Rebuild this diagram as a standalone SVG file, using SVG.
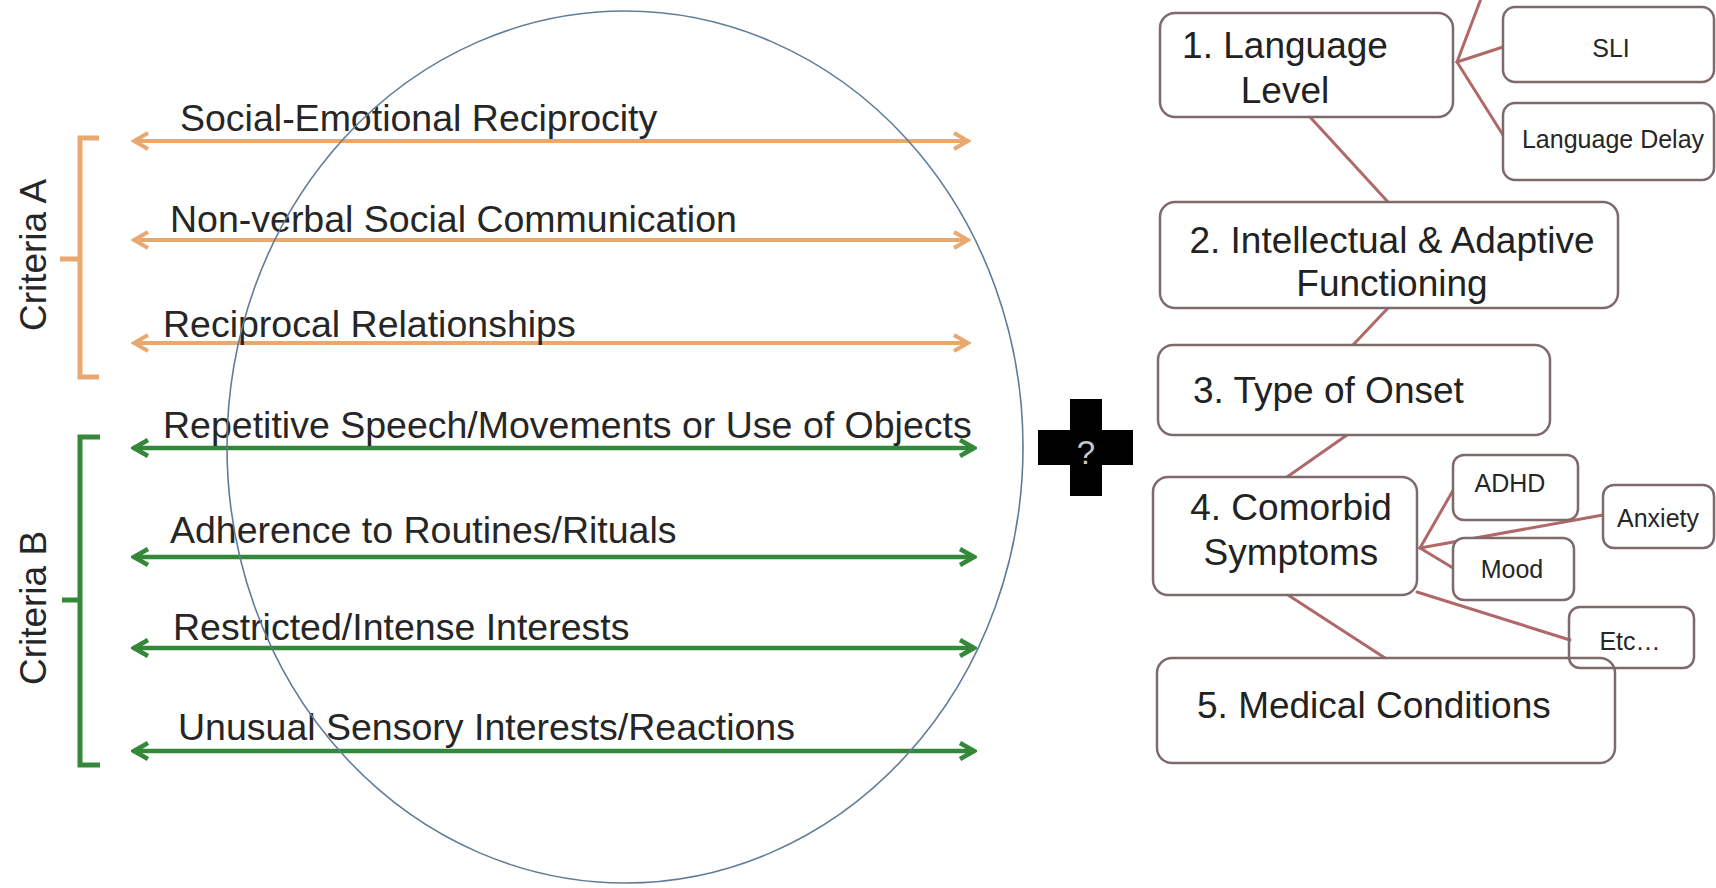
<svg xmlns="http://www.w3.org/2000/svg" width="1716" height="888" viewBox="0 0 1716 888">
<style>
  .lbl { font-family: "Liberation Sans", Arial, sans-serif; font-size: 37.5px; fill: #262626; }
  .crit { font-family: "Liberation Sans", Arial, sans-serif; font-size: 37px; fill: #262626; text-anchor: middle; }
  .big { font-family: "Liberation Sans", Arial, sans-serif; font-size: 37px; fill: #222222; }
  .small { font-family: "Liberation Sans", Arial, sans-serif; font-size: 25px; fill: #262626; text-anchor: middle; }
  .mid { text-anchor: middle; }
  .box { fill: #ffffff; stroke: #7e6a6a; stroke-width: 2.5; }
  .sbox { fill: none; stroke: #7e6a6a; stroke-width: 2.5; }
  .conn { stroke: #b06868; stroke-width: 3; fill: none; stroke-linecap: round; }
  .oa { stroke: #e8a870; stroke-width: 4; fill: none; }
  .ga { stroke: #34883a; stroke-width: 4.5; fill: none; }
</style>
<defs>
  <marker id="mo" viewBox="0 0 20 20" refX="17" refY="10" markerWidth="20" markerHeight="20" markerUnits="userSpaceOnUse" orient="auto-start-reverse">
    <path d="M3,2 L17,10 L3,18" fill="none" stroke="#e8a870" stroke-width="4"/>
  </marker>
  <marker id="mg" viewBox="0 0 20 20" refX="17" refY="10" markerWidth="20" markerHeight="20" markerUnits="userSpaceOnUse" orient="auto-start-reverse">
    <path d="M3,2 L17,10 L3,18" fill="none" stroke="#34883a" stroke-width="4.5"/>
  </marker>
</defs>
<rect width="1716" height="888" fill="#ffffff"/>

<g id="criteria-a">
  <path d="M99,138 H80 V377 H99 M60,259 H80" fill="none" stroke="#e8a870" stroke-width="5"/>
  <text class="crit" transform="translate(46,255) rotate(-90)">Criteria A</text>
</g>
<g id="criteria-b">
  <path d="M100,437 H80 V765 H100 M62,600 H80" fill="none" stroke="#34883a" stroke-width="5"/>
  <text class="crit" transform="translate(46,608) rotate(-90)">Criteria B</text>
</g>

<g id="connectors">
  <line class="oa" x1="134" y1="141" x2="968" y2="141" marker-start="url(#mo)" marker-end="url(#mo)"/>
  <line class="oa" x1="134" y1="240" x2="968" y2="240" marker-start="url(#mo)" marker-end="url(#mo)"/>
  <line class="oa" x1="134" y1="343" x2="968" y2="343" marker-start="url(#mo)" marker-end="url(#mo)"/>
  <line class="ga" x1="134" y1="448" x2="974" y2="448" marker-start="url(#mg)" marker-end="url(#mg)"/>
  <line class="ga" x1="134" y1="557" x2="974" y2="557" marker-start="url(#mg)" marker-end="url(#mg)"/>
  <line class="ga" x1="134" y1="648" x2="974" y2="648" marker-start="url(#mg)" marker-end="url(#mg)"/>
  <line class="ga" x1="134" y1="751" x2="974" y2="751" marker-start="url(#mg)" marker-end="url(#mg)"/>

  <line class="conn" x1="1457" y1="62" x2="1482" y2="-4"/>
  <line class="conn" x1="1457" y1="62" x2="1503" y2="47"/>
  <line class="conn" x1="1457" y1="62" x2="1503" y2="135"/>
  <line class="conn" x1="1310" y1="117" x2="1388" y2="202"/>
  <line class="conn" x1="1388" y1="308" x2="1353" y2="345"/>
  <line class="conn" x1="1347" y1="435" x2="1287" y2="477"/>
  <line class="conn" x1="1420" y1="548" x2="1455" y2="487"/>
  <line class="conn" x1="1420" y1="548" x2="1603" y2="515"/>
  <line class="conn" x1="1420" y1="548" x2="1453" y2="568"/>
  <line class="conn" x1="1417" y1="592" x2="1570" y2="640"/>
  <line class="conn" x1="1288" y1="595" x2="1385" y2="658"/>
</g>

<g id="labels-left">
  <text class="lbl" x="180" y="131">Social-Emotional Reciprocity</text>
  <text class="lbl" x="170" y="232">Non-verbal Social Communication</text>
  <text class="lbl" x="163" y="337">Reciprocal Relationships</text>
  <text class="lbl" x="163" y="438">Repetitive Speech/Movements or Use of Objects</text>
  <text class="lbl" x="170" y="543">Adherence to Routines/Rituals</text>
  <text class="lbl" x="173" y="640">Restricted/Intense Interests</text>
  <text class="lbl" x="178" y="740">Unusual Sensory Interests/Reactions</text>
</g>

<g id="overlap-ellipse">
  <ellipse cx="625" cy="447" rx="398" ry="436" fill="none" stroke="#5f7d99" stroke-width="1.6"/>
</g>

<g id="plus">
  <path d="M1070,399 H1102 V430 H1133 V465 H1102 V496 H1070 V465 H1038 V430 H1070 Z" fill="#000000"/>
  <text x="1086" y="464" font-family="'Liberation Sans', Arial, sans-serif" font-size="33" fill="#c8c8c8" text-anchor="middle">?</text>
</g>

<g id="language-level">
  <rect class="box" x="1160" y="13" width="293" height="104" rx="15"/>
  <text class="big mid" x="1285" y="58">1. Language</text>
  <text class="big mid" x="1285" y="103">Level</text>
</g>
<g id="sli">
  <rect class="box" x="1503" y="7" width="211" height="75" rx="12"/>
  <text class="small" x="1611" y="57">SLI</text>
</g>
<g id="language-delay">
  <rect class="box" x="1503" y="103" width="211" height="77" rx="12"/>
  <text class="small" x="1613" y="148">Language Delay</text>
</g>
<g id="intellectual">
  <rect class="box" x="1160" y="202" width="458" height="106" rx="15"/>
  <text class="big mid" x="1392" y="253">2. Intellectual &amp; Adaptive</text>
  <text class="big mid" x="1392" y="296">Functioning</text>
</g>
<g id="onset">
  <rect class="box" x="1158" y="345" width="392" height="90" rx="15"/>
  <text class="big" x="1193" y="403">3. Type of Onset</text>
</g>
<g id="comorbid">
  <rect class="box" x="1153" y="477" width="264" height="118" rx="15"/>
  <text class="big mid" x="1291" y="520">4. Comorbid</text>
  <text class="big mid" x="1291" y="565">Symptoms</text>
</g>
<g id="adhd">
  <rect class="box" x="1453" y="455" width="125" height="65" rx="11"/>
  <text class="small" x="1510" y="492">ADHD</text>
</g>
<g id="anxiety">
  <rect class="box" x="1603" y="485" width="111" height="63" rx="11"/>
  <text class="small" x="1658" y="527">Anxiety</text>
</g>
<g id="mood">
  <rect class="box" x="1453" y="538" width="121" height="62" rx="11"/>
  <text class="small" x="1512" y="578">Mood</text>
</g>
<g id="medical">
  <rect class="box" x="1157" y="658" width="458" height="105" rx="15"/>
  <text class="big" x="1197" y="718">5. Medical Conditions</text>
</g>
<g id="etc">
  <rect class="sbox" x="1569" y="607" width="125" height="61" rx="11"/>
  <text class="small" x="1630" y="650">Etc…</text>
</g>
</svg>
